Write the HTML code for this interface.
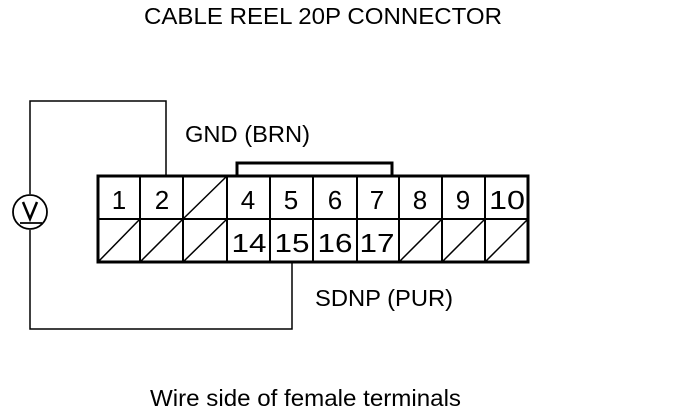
<!DOCTYPE html>
<html><head><style>
body{margin:0;background:#fff;}
svg{display:block}
text{font-family:"Liberation Sans",Arial,sans-serif;fill:#000}
</style></head><body>
<svg width="688" height="416" viewBox="0 0 688 416">
<text x="144" y="24" font-size="23" textLength="358" lengthAdjust="spacingAndGlyphs">CABLE REEL 20P CONNECTOR</text>
<text x="185" y="142" font-size="23" textLength="125" lengthAdjust="spacingAndGlyphs">GND (BRN)</text>
<text x="315" y="306" font-size="23" textLength="138" lengthAdjust="spacingAndGlyphs">SDNP (PUR)</text>
<text x="150" y="406" font-size="23" textLength="311" lengthAdjust="spacingAndGlyphs">Wire side of female terminals</text>
<g stroke="#000" fill="none">
<polyline points="30,194 30,101 166,101 166,176" stroke-width="1.5"/>
<polyline points="30,230 30,329 292,329 292,262" stroke-width="1.5"/>
<circle cx="30" cy="212" r="17" stroke-width="1.8"/>
<polyline points="23,202 30,219 37,202" stroke-width="2.5"/>
<line x1="20" y1="223" x2="42" y2="223" stroke-width="1.8"/>
<polyline points="237,176 237,163 392,163 392,176" stroke-width="3"/>
<rect x="98" y="176" width="430" height="86" stroke-width="3"/>
<line x1="98" y1="219" x2="528" y2="219" stroke-width="2"/>
<g stroke-width="2">
<line x1="140" y1="176" x2="140" y2="262"/>
<line x1="183" y1="176" x2="183" y2="262"/>
<line x1="227" y1="176" x2="227" y2="262"/>
<line x1="270" y1="176" x2="270" y2="262"/>
<line x1="313" y1="176" x2="313" y2="262"/>
<line x1="357" y1="176" x2="357" y2="262"/>
<line x1="399" y1="176" x2="399" y2="262"/>
<line x1="442" y1="176" x2="442" y2="262"/>
<line x1="485" y1="176" x2="485" y2="262"/>
</g>
<g stroke-width="1.5">
<line x1="183" y1="219" x2="227" y2="176"/>
<line x1="98" y1="262" x2="140" y2="219"/>
<line x1="140" y1="262" x2="183" y2="219"/>
<line x1="183" y1="262" x2="227" y2="219"/>
<line x1="399" y1="262" x2="442" y2="219"/>
<line x1="442" y1="262" x2="485" y2="219"/>
<line x1="485" y1="262" x2="528" y2="219"/>
</g>
</g>
<g font-size="26" text-anchor="middle">
<text x="119" y="209">1</text>
<text x="162" y="209">2</text>
<text x="248" y="209">4</text>
<text x="291" y="209">5</text>
<text x="335" y="209">6</text>
<text x="377" y="209">7</text>
<text x="420" y="209">8</text>
<text x="463" y="209">9</text>
<text x="507" y="209" textLength="36" lengthAdjust="spacingAndGlyphs">10</text>
<text x="249" y="252" textLength="35" lengthAdjust="spacingAndGlyphs">14</text>
<text x="292" y="252" textLength="35" lengthAdjust="spacingAndGlyphs">15</text>
<text x="335" y="252" textLength="35" lengthAdjust="spacingAndGlyphs">16</text>
<text x="377" y="252" textLength="35" lengthAdjust="spacingAndGlyphs">17</text>
</g>
</svg>
</body></html>
